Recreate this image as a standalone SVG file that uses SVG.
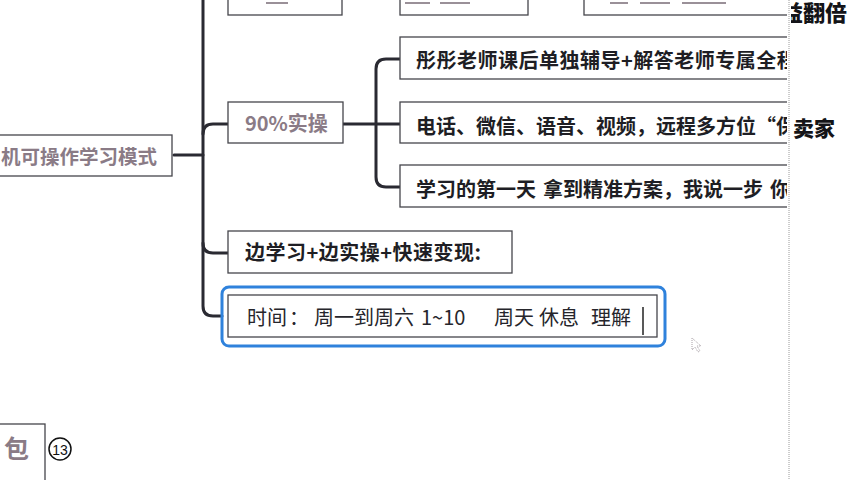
<svg xmlns="http://www.w3.org/2000/svg" width="852" height="480" viewBox="0 0 852 480">
  <style>
    .box { fill: #ffffff; stroke: #46464c; stroke-width: 1.3; }
    .link { fill: none; stroke: #2a2a32; stroke-width: 3; stroke-linecap: round; }
    .t { font-family: "Noto Sans CJK SC", "Noto Sans", sans-serif; font-size: 20px; }
    .b { font-weight: 700; }
    .sp { letter-spacing: 0.5px; }
    .mauve { fill: #8a7b86; }
    .dark { fill: #1e1e24; }
    .side { font-family: "Noto Sans CJK SC", sans-serif; font-weight: 900; fill: #141418; }
  </style>
  <defs>
    <clipPath id="mapArea"><rect x="0" y="0" width="787" height="480"/></clipPath>
    <clipPath id="sideArea"><rect x="791" y="0" width="61" height="480"/></clipPath>
  </defs>

  <rect width="852" height="480" fill="#ffffff"/>

  <g clip-path="url(#mapArea)">
    <!-- connectors -->
    <g id="connectors">
      <path class="link" d="M203,-5 V306 Q203,316 213,316 H222"/>
      <path class="link" d="M174,155 H203"/>
      <path class="link" d="M203,134 Q203,124 213,124 H228"/>
      <path class="link" d="M203,243 Q203,253 213,253 H228"/>
      <path class="link" d="M343,124 H400"/>
      <path class="link" d="M400,59 H386 Q376,59 376,69 V177 Q376,187 386,187 H400"/>
    </g>

    <!-- partly hidden nodes along the top edge -->
    <g id="top-1">
      <rect class="box" x="228" y="-25" width="114" height="40"/>
      <rect x="266" y="2" width="22" height="2" fill="#9a9098"/>
    </g>
    <g id="top-2">
      <rect class="box" x="400" y="-25" width="128" height="40"/>
      <rect x="405" y="2" width="25" height="2" fill="#9a9098"/>
      <rect x="440" y="2" width="30" height="2" fill="#9a9098"/>
    </g>
    <g id="top-3">
      <rect class="box" x="584" y="-25" width="230" height="40"/>
      <rect x="610" y="2" width="18" height="2" fill="#9a9098"/>
      <rect x="640" y="2" width="30" height="2" fill="#9a9098"/>
      <rect x="682" y="2" width="44" height="2" fill="#9a9098"/>
    </g>

    <!-- root -->
    <g id="root">
      <rect class="box" x="-10" y="135" width="182" height="41"/>
      <text class="t b mauve" x="157" y="164" text-anchor="end" style="font-size: 19.5px;">机可操作学习模式</text>
    </g>

    <g id="practice">
      <rect class="box" x="228" y="102" width="115" height="41"/>
      <text class="t b mauve" x="245" y="131">90%实操</text>
    </g>

    <g id="practice-a">
      <rect class="box" x="400" y="37" width="420" height="42"/>
      <text class="t b dark sp" x="416" y="68">彤彤老师课后单独辅导+解答老师专属全程</text>
    </g>
    <g id="practice-b">
      <rect class="box" x="400" y="102" width="420" height="41"/>
      <text class="t b dark" x="416" y="134">电话、微信、语音、视频，远程多方位“保</text>
    </g>
    <g id="practice-c">
      <rect class="box" x="400" y="165" width="420" height="42"/>
      <text class="t b dark" y="197"><tspan x="416">学习的第一天</tspan><tspan x="543">拿到精准方案，我说一步</tspan><tspan x="770">你</tspan></text>
    </g>

    <g id="learn-do">
      <rect class="box" x="228" y="231" width="284" height="42"/>
      <text class="t b dark sp" x="245" y="260">边学习+边实操+快速变现:</text>
    </g>

    <g id="schedule">
      <rect x="222" y="287" width="443" height="59" rx="7" fill="none" stroke="#2f82dc" stroke-width="3"/>
      <rect class="box" x="228" y="295" width="429" height="42"/>
      <text class="t" fill="#26262c" y="325"><tspan x="247">时间</tspan><tspan x="289">：</tspan><tspan x="314">周一到周六</tspan><tspan x="421">1~10</tspan><tspan x="494">周天</tspan><tspan x="539">休息</tspan><tspan x="591">理解</tspan></text>
      <line x1="643" y1="307" x2="643" y2="335" stroke="#222" stroke-width="1.5"/>
    </g>

    <g id="pack">
      <rect class="box" x="-10" y="424" width="55" height="70"/>
      <text class="b mauve" x="29" y="458" text-anchor="end" style="font-family: 'Noto Sans CJK SC', sans-serif; font-size: 25px;">包</text>
      <circle cx="60" cy="449" r="11" fill="none" stroke="#111" stroke-width="1.5"/>
      <text x="60" y="454.5" text-anchor="middle" font-family="Liberation Sans, sans-serif" font-size="14" fill="#111">13</text>
    </g>

    <!-- mouse pointer -->
    <path d="M692,338 L692,350 L695,347 L698,352 L700,351 L697,346 L701,346 Z" fill="none" stroke="#a8a0a6" stroke-width="1" stroke-dasharray="1,1"/>
  </g>

  <!-- side panel -->
  <line x1="789" y1="0" x2="789" y2="480" stroke="#9a9a9a" stroke-width="1" stroke-dasharray="1,1"/>
  <g clip-path="url(#sideArea)">
    <text class="side" x="781" y="21" font-size="22">益翻倍</text>
    <text class="side" x="793" y="136" font-size="21">卖家</text>
  </g>
</svg>
